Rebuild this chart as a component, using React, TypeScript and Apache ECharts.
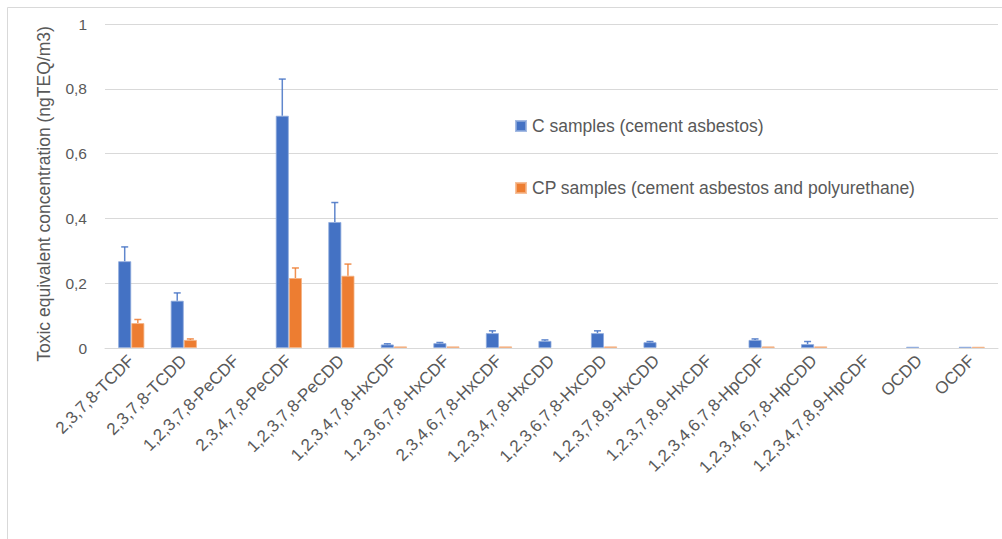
import React, { useEffect, useRef } from "react";
import * as echarts from "echarts";

// Congeners on the category axis
const categories = [
  "2,3,7,8-TCDF",
  "2,3,7,8-TCDD",
  "1,2,3,7,8-PeCDF",
  "2,3,4,7,8-PeCDF",
  "1,2,3,7,8-PeCDD",
  "1,2,3,4,7,8-HxCDF",
  "1,2,3,6,7,8-HxCDF",
  "2,3,4,6,7,8-HxCDF",
  "1,2,3,4,7,8-HxCDD",
  "1,2,3,6,7,8-HxCDD",
  "1,2,3,7,8,9-HxCDD",
  "1,2,3,7,8,9-HxCDF",
  "1,2,3,4,6,7,8-HpCDF",
  "1,2,3,4,6,7,8-HpCDD",
  "1,2,3,4,7,8,9-HpCDF",
  "OCDD",
  "OCDF",
];

// Mean toxic equivalent concentration (ngTEQ/m3)
const cValues = [0.268, 0.146, 0, 0.717, 0.389, 0.011, 0.015, 0.046, 0.022, 0.046, 0.018, 0, 0.025, 0.012, 0, 0.004, 0.004];
const cpValues = [0.077, 0.025, 0, 0.216, 0.223, 0.005, 0.005, 0.005, 0, 0.005, 0, 0, 0.005, 0.005, 0, 0, 0.004];

// Upper error (standard deviation)
const cErrors = [0.044, 0.024, 0, 0.113, 0.06, 0.002, 0.002, 0.007, 0.003, 0.007, 0.002, 0, 0.003, 0.008, 0, 0, 0];
const cpErrors = [0.011, 0.003, 0, 0.031, 0.036, 0, 0, 0, 0, 0, 0, 0, 0, 0, 0, 0, 0];

const yTicks = [0, 0.2, 0.4, 0.6, 0.8, 1];

const yAxisTitle = "Toxic equivalent concentration (ngTEQ/m3)";
const seriesNames = ["C samples (cement asbestos)", "CP samples (cement asbestos and polyurethane)"];
const BLUE = "#4472C4";
const ORANGE = "#ED7D31";
const TEXT = "#595959";
const GRID = "#D9D9D9";
const FONT = "'Liberation Sans', Arial, sans-serif";

// Zero means "not detected": leave the slot empty instead of drawing a hairline bar
const toBarData = (values: number[]) => values.map((v) => (v > 0 ? v : "-"));

function errorSeries(values: number[], errors: number[], side: number, color: string) {
  const data = values
    .map((v, i) => [i, v, errors[i]])
    .filter((d) => d[2] > 0);
  return {
    type: "custom",
    silent: true,
    z: 5,
    encode: { x: 0, y: 1 },
    data,
    renderItem: (params: any, api: any) => {
      const idx = api.value(0);
      const v = api.value(1);
      const e = api.value(2);
      const band = api.size([1, 0])[0];
      const barW = band * 0.25;
      const base = api.coord([idx, v]);
      const top = api.coord([idx, v + e]);
      const x = base[0] + side * barW / 2;
      const cap = 3.5;
      const style = { stroke: color, lineWidth: 1.5, opacity: 0.85 };
      return {
        type: "group",
        children: [
          { type: "line", shape: { x1: x, y1: base[1], x2: x, y2: top[1] }, style },
          { type: "line", shape: { x1: x - cap, y1: top[1], x2: x + cap, y2: top[1] }, style },
        ],
      };
    },
  };
}

export default function App() {
  const ref = useRef<HTMLDivElement>(null);

  useEffect(() => {
    if (!ref.current) return;
    const chart = echarts.init(ref.current, undefined, { renderer: "svg" });
    chart.setOption({
      animation: false,
      backgroundColor: "#ffffff",
      textStyle: { fontFamily: FONT },
      graphic: [
        {
          type: "rect",
          shape: { x: 7.5, y: 7.5, width: 1100, height: 700 },
          style: { fill: "none", stroke: GRID, lineWidth: 1 },
          silent: true,
          z: -10,
        },
        {
          type: "text",
          x: 44,
          y: 194,
          rotation: Math.PI / 2,
          silent: true,
          style: {
            text: yAxisTitle,
            fill: TEXT,
            font: `17.5px ${FONT}`,
            align: "center",
            verticalAlign: "middle",
          },
        },
      ],
      grid: { left: 105, right: 4, top: 24, bottom: 191, containLabel: false },
      legend: {
        data: seriesNames,
        orient: "vertical",
        left: 510,
        top: 112,
        itemWidth: 10,
        itemHeight: 10,
        itemGap: 44,
        icon: "rect",
        textStyle: { color: TEXT, fontSize: 17.5, fontFamily: FONT, padding: [0, 0, 0, 1] },
      },
      xAxis: {
        type: "category",
        data: categories,
        axisLine: { lineStyle: { color: GRID, width: 1 } },
        axisTick: { show: false },
        axisLabel: {
          interval: 0,
          rotate: 45,
          margin: 10,
          color: TEXT,
          fontSize: 17,
          fontFamily: FONT,
        },
      },
      yAxis: {
        type: "value",
        min: yTicks[0],
        max: yTicks[yTicks.length - 1],
        interval: 0.2,
        axisLine: { show: false },
        axisTick: { show: false },
        splitLine: { lineStyle: { color: GRID, width: 1 } },
        axisLabel: {
          margin: 18,
          color: TEXT,
          fontSize: 15.5,
          fontFamily: FONT,
          formatter: (v: number) => String(Math.round(v * 10) / 10).replace(".", ","),
        },
      },
      series: [
        {
          name: seriesNames[0],
          type: "bar",
          data: toBarData(cValues),
          barGap: "0%",
          barCategoryGap: "50%",
          itemStyle: { color: BLUE, borderColor: "rgba(143,170,220,0.8)", borderWidth: 1 },
        },
        {
          name: seriesNames[1],
          type: "bar",
          data: toBarData(cpValues),
          barGap: "0%",
          barCategoryGap: "50%",
          itemStyle: { color: ORANGE, borderColor: "rgba(244,177,131,0.8)", borderWidth: 1 },
        },
        errorSeries(cValues, cErrors, -1, BLUE),
        errorSeries(cpValues, cpErrors, 1, ORANGE),
      ],
    });
    return () => chart.dispose();
  }, []);

  return (
    <div
      ref={ref}
      style={{ position: "fixed", left: 0, top: 0, width: 1002, height: 539, background: "#fff" }}
    />
  );
}
